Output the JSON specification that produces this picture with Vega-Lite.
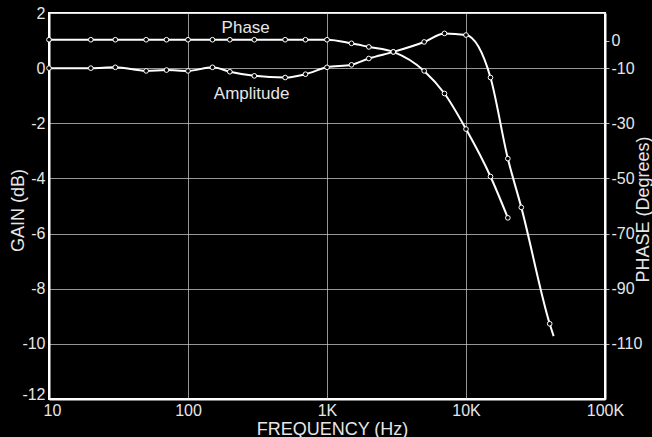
{
  "$schema": "https://vega.github.io/schema/vega-lite/v6.json",
  "width": 556,
  "height": 386,
  "autosize": {"type": "none"},
  "padding": {"left": 49, "top": 13, "right": 47, "bottom": 38},
  "background": "#000000",
  "config": {
    "view": {"stroke": "#ffffff", "strokeWidth": 2},
    "font": "Liberation Sans",
    "axis": {
      "labelColor": "#e6e6e6",
      "titleColor": "#e6e6e6",
      "labelFontSize": 16,
      "titleFontSize": 18,
      "titleFontWeight": "normal",
      "domainColor": "#ffffff",
      "domainWidth": 2,
      "tickColor": "#bdbdbd",
      "gridColor": "#c8c8c8",
      "gridWidth": 1,
      "gridOpacity": 0.75
    }
  },
  "datasets": {
    "amp": [
      {"freq": 10, "gain": 0, "m": 1},
      {"freq": 20, "gain": 0, "m": 1},
      {"freq": 30, "gain": 0.03, "m": 1},
      {"freq": 50, "gain": -0.1, "m": 1},
      {"freq": 70, "gain": -0.07, "m": 1},
      {"freq": 100, "gain": -0.1, "m": 1},
      {"freq": 150, "gain": 0.03, "m": 1},
      {"freq": 200, "gain": -0.13, "m": 1},
      {"freq": 300, "gain": -0.28, "m": 1},
      {"freq": 500, "gain": -0.34, "m": 1},
      {"freq": 700, "gain": -0.22, "m": 1},
      {"freq": 1000, "gain": 0.03, "m": 1},
      {"freq": 1500, "gain": 0.12, "m": 1},
      {"freq": 2000, "gain": 0.35, "m": 1},
      {"freq": 3000, "gain": 0.59, "m": 1},
      {"freq": 5000, "gain": 0.95, "m": 1},
      {"freq": 7000, "gain": 1.26, "m": 1},
      {"freq": 10000, "gain": 1.2, "m": 1},
      {"freq": 15000, "gain": -0.34, "m": 1},
      {"freq": 20000, "gain": -3.28, "m": 1},
      {"freq": 25000, "gain": -5.05, "m": 1},
      {"freq": 40000, "gain": -9.27, "m": 1},
      {"freq": 42700, "gain": -9.72, "m": 0}
    ],
    "phase": [
      {"freq": 10, "phase": 0.3},
      {"freq": 20, "phase": 0.3},
      {"freq": 30, "phase": 0.3},
      {"freq": 50, "phase": 0.3},
      {"freq": 70, "phase": 0.3},
      {"freq": 100, "phase": 0.3},
      {"freq": 150, "phase": 0.3},
      {"freq": 200, "phase": 0.3},
      {"freq": 300, "phase": 0.3},
      {"freq": 500, "phase": 0.3},
      {"freq": 700, "phase": 0.3},
      {"freq": 1000, "phase": 0.3},
      {"freq": 1500, "phase": -1.0},
      {"freq": 2000, "phase": -2.3},
      {"freq": 3000, "phase": -4.1},
      {"freq": 5000, "phase": -11},
      {"freq": 7000, "phase": -19.2},
      {"freq": 10000, "phase": -32.1},
      {"freq": 15000, "phase": -49.3},
      {"freq": 20000, "phase": -64.3}
    ],
    "labels": [
      {"freq": 260, "gain": 1.45, "text": "Phase"},
      {"freq": 287, "gain": -0.95, "text": "Amplitude"}
    ]
  },
  "layer": [
    {
      "encoding": {
        "x": {
          "field": "freq",
          "type": "quantitative",
          "scale": {"type": "log", "domain": [10, 100000]},
          "axis": {
            "title": "FREQUENCY (Hz)",
            "values": [10, 100, 1000, 10000, 100000],
            "labelExpr": "datum.value >= 1000 ? (datum.value / 1000) + 'K' : '' + datum.value",
            "grid": true,
            "ticks": false,
            "labelPadding": 3,
            "labelOffset": {"condition": {"test": "datum.value == 10", "value": 3}, "value": 0},
            "titleX": 283,
            "titleY": 30,
            "titleBaseline": "middle",
            "labelFlush": false
          }
        },
        "y": {
          "field": "gain",
          "type": "quantitative",
          "scale": {"domain": [-12, 2], "nice": false, "zero": false},
          "axis": {
            "title": "GAIN (dB)",
            "values": [-12, -10, -8, -6, -4, -2, 0, 2],
            "labelExpr": "datum.value < 0 ? '-' + abs(datum.value) : '' + datum.value",
            "grid": true,
            "ticks": false,
            "labelPadding": 4,
            "labelOffset": {"condition": {"test": "datum.value == -12", "value": -5}, "value": 0},
            "titleAngle": 270,
            "titleX": -31,
            "titleY": 197,
            "titleAlign": "center",
            "titleBaseline": "middle",
            "labelFlush": false
          }
        }
      },
      "layer": [
        {
          "data": {"name": "amp"},
          "mark": {"type": "line", "color": "#ffffff", "strokeWidth": 2, "interpolate": "monotone"}
        },
        {
          "data": {"name": "amp"},
          "transform": [{"filter": "datum.m == 1"}],
          "mark": {"type": "point", "shape": "circle", "size": 22, "filled": true, "fill": "#000000", "stroke": "#ffffff", "strokeWidth": 1, "opacity": 1}
        },
        {
          "data": {"name": "labels"},
          "mark": {"type": "text", "color": "#e6e6e6", "fontSize": 17, "font": "Liberation Sans"},
          "encoding": {"text": {"field": "text"}}
        }
      ]
    },
    {
      "data": {"name": "phase"},
      "encoding": {
        "x": {"field": "freq", "type": "quantitative", "scale": {"type": "log", "domain": [10, 100000]}},
        "y": {
          "field": "phase",
          "type": "quantitative",
          "scale": {"domain": [-130, 10], "nice": false, "zero": false},
          "axis": {
            "orient": "right",
            "title": "PHASE (Degrees)",
            "titleAngle": 270,
            "titleX": 38,
            "titleY": 196,
            "titleAlign": "center",
            "titleBaseline": "middle",
            "values": [0, -10, -30, -50, -70, -90, -110],
            "labelExpr": "datum.value < 0 ? '-' + abs(datum.value) : '' + datum.value",
            "grid": false,
            "ticks": true,
            "tickSize": 4,
            "labelPadding": 2,
            "labelFlush": false
          }
        }
      },
      "layer": [
        {
          "mark": {"type": "line", "color": "#ffffff", "strokeWidth": 2, "interpolate": "monotone"}
        },
        {
          "mark": {"type": "point", "shape": "circle", "size": 22, "filled": true, "fill": "#000000", "stroke": "#ffffff", "strokeWidth": 1, "opacity": 1}
        }
      ]
    }
  ],
  "resolve": {"scale": {"y": "independent"}, "axis": {"y": "independent"}}
}
